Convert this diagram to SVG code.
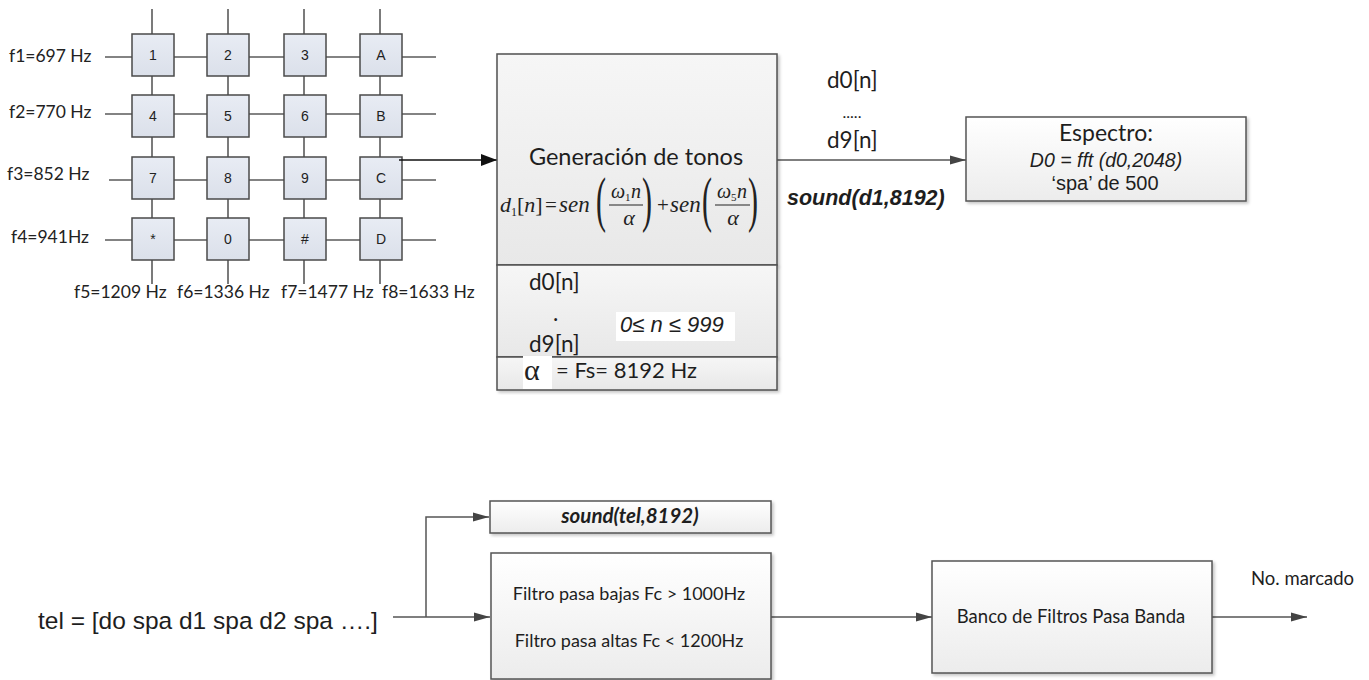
<svg xmlns="http://www.w3.org/2000/svg" width="1369" height="680" viewBox="0 0 1369 680">
<defs>
<style>
.kline{stroke:#5a5a5a;stroke-width:1.6;fill:none}
.key{fill:url(#gKey);stroke:#4a4a4a;stroke-width:1.5}
.keyt{font-family:"Liberation Sans",Arial,sans-serif;font-size:14px;fill:#222;text-anchor:middle}
.flab{font-family:Lato,"Open Sans",sans-serif;font-size:17.5px;fill:#222}
.box{fill:url(#gBox);stroke:#555;stroke-width:1.5}
.mbox{fill:url(#gMain);stroke:#505050;stroke-width:1.5}
.conn{stroke:#555;stroke-width:1.5;fill:none}
.lato{font-family:Lato,"Open Sans",sans-serif;fill:#1e1e1e}
.arial{font-family:"Liberation Sans",Arial,sans-serif;fill:#1e1e1e}
.mi{font-family:"Liberation Serif","Times New Roman",serif;font-style:italic;fill:#222}
.mr{font-family:"Liberation Serif","Times New Roman",serif;fill:#222}
</style>
<linearGradient id="gBox" x1="0" y1="0" x2="0" y2="1"><stop offset="0" stop-color="#ffffff"/><stop offset="1" stop-color="#ececec"/></linearGradient>
<linearGradient id="gMain" x1="0" y1="0" x2="0" y2="1"><stop offset="0" stop-color="#f6f6f6"/><stop offset="1" stop-color="#e8e8e8"/></linearGradient>
<linearGradient id="gKey" x1="0" y1="0" x2="0" y2="1"><stop offset="0" stop-color="#e8ecf4"/><stop offset="1" stop-color="#dbe0ea"/></linearGradient>
<filter id="sh" x="-5%" y="-5%" width="115%" height="120%"><feDropShadow dx="2" dy="2" stdDeviation="1.5" flood-color="#000" flood-opacity="0.22"/></filter>
<marker id="ah" markerUnits="userSpaceOnUse" markerWidth="17" markerHeight="11" refX="16" refY="5.5" orient="auto"><path d="M0,1 L16,5.5 L0,10 z" fill="#444"/></marker>
<marker id="ahk" markerUnits="userSpaceOnUse" markerWidth="17" markerHeight="13" refX="16" refY="6.5" orient="auto"><path d="M0,0.5 L16,6.5 L0,12.5 z" fill="#111"/></marker>
</defs>
<rect width="1369" height="680" fill="#ffffff"/>

<g id="keypad">
  <g id="keypad-lines" class="kline">
    <line x1="152" y1="9" x2="152" y2="284"/>
    <line x1="228" y1="9" x2="228" y2="284"/>
    <line x1="304" y1="9" x2="304" y2="284"/>
    <line x1="380" y1="9" x2="380" y2="284"/>
    <line x1="105" y1="57" x2="436" y2="57"/>
    <line x1="105" y1="114" x2="436" y2="114"/>
    <line x1="109" y1="180" x2="436" y2="180"/>
    <line x1="105" y1="240" x2="436" y2="240"/>
  </g>
  <g id="keys">
    <rect class="key" x="132" y="34" width="42" height="42"/><text class="keyt" x="153" y="60">1</text>
    <rect class="key" x="207" y="34" width="42" height="42"/><text class="keyt" x="228" y="60">2</text>
    <rect class="key" x="284" y="34" width="42" height="42"/><text class="keyt" x="305" y="60">3</text>
    <rect class="key" x="360" y="34" width="42" height="42"/><text class="keyt" x="381" y="60">A</text>
    <rect class="key" x="132" y="95" width="42" height="42"/><text class="keyt" x="153" y="121">4</text>
    <rect class="key" x="207" y="95" width="42" height="42"/><text class="keyt" x="228" y="121">5</text>
    <rect class="key" x="284" y="95" width="42" height="42"/><text class="keyt" x="305" y="121">6</text>
    <rect class="key" x="360" y="95" width="42" height="42"/><text class="keyt" x="381" y="121">B</text>
    <rect class="key" x="132" y="157" width="42" height="42"/><text class="keyt" x="153" y="183">7</text>
    <rect class="key" x="207" y="157" width="42" height="42"/><text class="keyt" x="228" y="183">8</text>
    <rect class="key" x="284" y="157" width="42" height="42"/><text class="keyt" x="305" y="183">9</text>
    <rect class="key" x="360" y="157" width="42" height="42"/><text class="keyt" x="381" y="183">C</text>
    <rect class="key" x="132" y="218" width="42" height="42"/><text class="keyt" x="153" y="244">*</text>
    <rect class="key" x="207" y="218" width="42" height="42"/><text class="keyt" x="228" y="244">0</text>
    <rect class="key" x="284" y="218" width="42" height="42"/><text class="keyt" x="305" y="244">#</text>
    <rect class="key" x="360" y="218" width="42" height="42"/><text class="keyt" x="381" y="244">D</text>
  </g>
  <g id="freq-labels" class="flab">
    <text x="9" y="62">f1=697 Hz</text>
    <text x="9" y="118">f2=770 Hz</text>
    <text x="7" y="180">f3=852 Hz</text>
    <text x="11" y="243">f4=941Hz</text>
    <text x="74" y="298">f5=1209 Hz</text>
    <text x="177" y="298">f6=1336 Hz</text>
    <text x="281" y="298">f7=1477 Hz</text>
    <text x="382" y="298">f8=1633 Hz</text>
  </g>
</g>

<g id="connectors">
  <line x1="399" y1="160" x2="497" y2="160" stroke="#111" stroke-width="1.5" marker-end="url(#ahk)"/>
  <line class="conn" x1="777" y1="160" x2="966" y2="160" marker-end="url(#ah)"/>
  <line class="conn" x1="393" y1="617" x2="490" y2="617" marker-end="url(#ah)"/>
  <polyline class="conn" points="426,617 426,517 489,517" marker-end="url(#ah)"/>
  <line class="conn" x1="771" y1="617" x2="932" y2="617" marker-end="url(#ah)"/>
  <line class="conn" x1="1212" y1="617" x2="1307" y2="617" marker-end="url(#ah)"/>
</g>

<g id="generacion">
  <rect class="mbox" x="497" y="54" width="280" height="211" filter="url(#sh)"/>
  <rect class="mbox" x="497" y="265" width="280" height="92" filter="url(#sh)"/>
  <rect class="mbox" x="497" y="357" width="280" height="33" filter="url(#sh)"/>
  <text class="lato" x="636" y="165" font-size="23.5" text-anchor="middle">Generación de tonos</text>
  <g id="formula">
    <text class="mi" x="500" y="212" font-size="22">d</text>
    <text class="mr" x="511" y="216" font-size="12">1</text>
    <text class="mr" x="517" y="212" font-size="22">[<tspan font-style="italic">n</tspan>]</text>
    <text class="mr" x="545" y="212" font-size="21">=</text>
    <text class="mi" x="559" y="212" font-size="23">sen</text>
    <text class="mr" transform="translate(596,220) scale(1,2.05)" font-size="30">(</text>
    <text class="mi" x="611" y="198" font-size="20">ω</text>
    <text class="mr" x="625" y="201" font-size="11">1</text>
    <text class="mi" x="631" y="198" font-size="20">n</text>
    <line x1="609" y1="205" x2="643" y2="205" stroke="#222" stroke-width="1.2"/>
    <text class="mi" x="629" y="225" font-size="22" text-anchor="middle">α</text>
    <text class="mr" transform="translate(642,220) scale(1,2.05)" font-size="30">)</text>
    <text class="mr" x="657" y="212" font-size="21">+</text>
    <text class="mi" x="670" y="212" font-size="23">sen</text>
    <text class="mr" transform="translate(702,220) scale(1,2.05)" font-size="30">(</text>
    <text class="mi" x="717" y="198" font-size="20">ω</text>
    <text class="mr" x="731" y="201" font-size="11">5</text>
    <text class="mi" x="737" y="198" font-size="20">n</text>
    <line x1="715" y1="205" x2="750" y2="205" stroke="#222" stroke-width="1.2"/>
    <text class="mi" x="733" y="225" font-size="22" text-anchor="middle">α</text>
    <text class="mr" transform="translate(748,220) scale(1,2.05)" font-size="30">)</text>
  </g>
  <text class="lato" x="529" y="290" font-size="22.5">d0[n]</text>
  <text class="lato" x="553" y="321" font-size="22.5">.</text>
  <rect x="616" y="312" width="119" height="29" fill="#ffffff"/>
  <text class="arial" x="620" y="332" font-size="22" font-style="italic">0≤ n ≤ 999</text>
  <text class="lato" x="529" y="352" font-size="22.5">d9[n]</text>
  <rect x="523" y="356" width="29" height="33" fill="#ffffff"/>
  <text class="mr" x="524" y="380" font-size="30">α</text>
  <text class="lato" x="556" y="378" font-size="22">= Fs= 8192 Hz</text>
</g>

<g id="labels-out">
  <text class="lato" x="827" y="88" font-size="22.5">d0[n]</text>
  <text class="lato" x="852" y="118" font-size="16" text-anchor="middle">.....</text>
  <text class="lato" x="827" y="148" font-size="22.5">d9[n]</text>
  <text class="arial" x="787" y="205" font-size="21.5" font-weight="bold" font-style="italic">sound(d1,8192)</text>
</g>

<g id="espectro">
  <rect class="box" x="966" y="117" width="280" height="84" filter="url(#sh)"/>
  <text class="lato" x="1106" y="141" font-size="23" text-anchor="middle">Espectro:</text>
  <text class="arial" x="1106" y="167" font-size="19.5" font-style="italic" text-anchor="middle">D0 = fft (d0,2048)</text>
  <text class="arial" x="1105" y="190" font-size="20" text-anchor="middle">‘spa’ de 500</text>
</g>

<g id="tel">
  <text class="arial" x="38" y="629" font-size="24.5">tel = [do spa d1 spa d2 spa ….]</text>
</g>

<g id="sound-tel">
  <rect class="box" x="490" y="501" width="281" height="32" filter="url(#sh)"/>
  <text class="lato" x="630" y="523" font-size="20.5" font-weight="bold" font-style="italic" text-anchor="middle">sound(tel,8192)</text>
</g>

<g id="filtros">
  <rect class="box" x="491" y="553" width="280" height="126" filter="url(#sh)"/>
  <text class="lato" x="629" y="600" font-size="18" text-anchor="middle">Filtro pasa bajas Fc &gt; 1000Hz</text>
  <text class="lato" x="629" y="647" font-size="18" text-anchor="middle">Filtro pasa altas Fc &lt; 1200Hz</text>
</g>

<g id="banco">
  <rect class="box" x="932" y="561" width="280" height="112" filter="url(#sh)"/>
  <text class="lato" x="1071" y="623" font-size="18.5" text-anchor="middle">Banco de Filtros Pasa Banda</text>
</g>

<g id="salida">
  <text class="lato" x="1251" y="585" font-size="18.5">No. marcado</text>
</g>
</svg>
